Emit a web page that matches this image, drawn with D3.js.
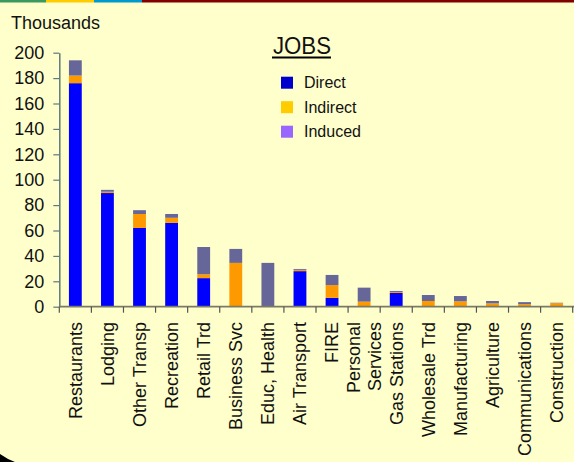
<!DOCTYPE html>
<html>
<head>
<meta charset="utf-8">
<script src="https://cdn.jsdelivr.net/npm/d3@7/dist/d3.min.js"></script>
<style>
  html, body { margin: 0; padding: 0; background: #ffffcc; }
  svg { display: block; }
  text { font-family: "Liberation Sans", Arial, sans-serif; fill: #111; }
</style>
</head>
<body>
<div id="chart-container"></div>
<script>
// values in thousands of jobs
const categories = ["Restaurants", "Lodging", "Other Transp", "Recreation", "Retail Trd",
  "Business Svc", "Educ, Health", "Air Transport", "FIRE", "Personal Services",
  "Gas Stations", "Wholesale Trd", "Manufacturing", "Agriculture", "Communications", "Construction"];
const direct   = [176, 89.5, 62, 66, 22.5, 0, 0, 28, 7, 0, 10.8, 0, 0, 0, 0, 0];
const indirect = [6, 1, 11, 4, 3, 34.5, 0, 1, 10, 4, 0.8, 4.5, 4.2, 2.6, 2, 2.8];
const induced  = [12, 1.5, 3, 3, 21.5, 11, 34.5, 0.7, 8, 11, 0.8, 4.7, 4.2, 1.9, 1.6, 0.3];
const seriesNames = ["Direct", "Indirect", "Induced"];
const yTicks = [0, 20, 40, 60, 80, 100, 120, 140, 160, 180, 200];

const width = 574, height = 462;
const barColors = { Direct: "#0000ff", Indirect: "#ff9900", Induced: "#666699" };
const legendColors = { Direct: "#0000cc", Indirect: "#ffcc00", Induced: "#9966ff" };

const svg = d3.select('#chart-container')
  .append('svg')
  .attr('width', width)
  .attr('height', height);

svg.append('rect').attr('width', width).attr('height', height).attr('fill', '#ffffcc');

// coloured strip along the top
const strip = [["#3a9a5e", 0, 46], ["#ffcc00", 46, 94], ["#0099cc", 94, 142], ["#800000", 142, width]];
svg.selectAll('.strip')
  .data(strip)
  .enter()
  .append('rect')
  .attr('x', d => d[1])
  .attr('y', 0)
  .attr('width', d => d[2] - d[1])
  .attr('height', 2.5)
  .attr('fill', d => d[0]);

// black frame corner bottom left
svg.append('path')
  .attr('d', 'M0,454 Q7,459 15,462 L0,462 Z')
  .attr('fill', '#000');

const data = categories.map((c, i) => ({
  label: c, Direct: direct[i], Indirect: indirect[i], Induced: induced[i]
}));

const xScale = d3.scaleBand()
  .domain(categories)
  .range([59.3, 572.7])
  .paddingInner(0.6)
  .paddingOuter(0.3);

const yScale = d3.scaleLinear()
  .domain([0, 200])
  .range([306.7, 52.7]);

const stack = d3.stack().keys(seriesNames);
const layers = stack(data);

svg.append('g')
  .selectAll('g')
  .data(layers)
  .enter()
  .append('g')
  .attr('fill', d => barColors[d.key])
  .selectAll('rect')
  .data(d => d)
  .enter()
  .append('rect')
  .attr('x', d => xScale(d.data.label))
  .attr('y', d => yScale(d[1]))
  .attr('width', xScale.bandwidth())
  .attr('height', d => yScale(d[0]) - yScale(d[1]));

// y axis
const yAxis = svg.append('g')
  .attr('class', 'y-axis')
  .attr('transform', 'translate(59.3,0)')
  .call(d3.axisLeft(yScale).tickValues(yTicks).tickSize(6).tickSizeOuter(0).tickPadding(9));
yAxis.select('.domain').attr('stroke', '#5e7a7a').attr('stroke-width', 1.5);
yAxis.selectAll('.tick line').attr('stroke', '#5e7a7a').attr('stroke-width', 1.2);
yAxis.selectAll('.tick text')
  .style('font-size', '18px')
  .style('font-family', '"Liberation Sans", Arial, sans-serif')
  .attr('fill', '#111');

// x axis with ticks between categories
const xAxisG = svg.append('g').attr('class', 'x-axis');
xAxisG.append('line')
  .attr('x1', 59.3).attr('x2', 574)
  .attr('y1', yScale(0)).attr('y2', yScale(0))
  .attr('stroke', '#7a7a66').attr('stroke-width', 1.8);
const step = xScale.step();
const bounds = d3.range(categories.length + 1).map(i => 59.3 + i * step);
xAxisG.selectAll('.xtick')
  .data(bounds)
  .enter()
  .append('line')
  .attr('x1', d => d).attr('x2', d => d)
  .attr('y1', yScale(0)).attr('y2', yScale(0) + 6)
  .attr('stroke', '#555').attr('stroke-width', 1.2);

const labelG = xAxisG.selectAll('.xlabel')
  .data(categories)
  .enter()
  .append('text')
  .attr('class', 'xlabel')
  .attr('transform', d => `translate(${xScale(d) + xScale.bandwidth() / 2},322) rotate(-90)`)
  .attr('text-anchor', 'end')
  .style('font-size', '18px');

labelG.each(function(d) {
  const lines = d === "Personal Services" ? ["Personal", "Services"] : [d];
  const t = d3.select(this);
  lines.forEach((ln, j) => {
    t.append('tspan')
      .attr('x', 0)
      .attr('dy', lines.length === 1 ? '0.35em' : (j === 0 ? '-0.25em' : '1.2em'))
      .text(ln);
  });
});

// y units label
svg.append('text')
  .attr('x', 11)
  .attr('y', 29)
  .style('font-size', '18px')
  .text('Thousands');

// title
svg.append('text')
  .attr('x', 273)
  .attr('y', 54)
  .attr('textLength', 58)
  .attr('lengthAdjust', 'spacingAndGlyphs')
  .style('font-size', '24px')
  .text('JOBS');
svg.append('line')
  .attr('x1', 272).attr('x2', 331)
  .attr('y1', 57.5).attr('y2', 57.5)
  .attr('stroke', '#000').attr('stroke-width', 2);

// legend
const legend = svg.append('g')
  .selectAll('g')
  .data(seriesNames)
  .enter()
  .append('g')
  .attr('transform', (d, i) => `translate(281,${82.7 + i * 24.5})`);
legend.append('rect')
  .attr('x', 0).attr('y', -6)
  .attr('width', 12).attr('height', 12)
  .attr('fill', d => legendColors[d]);
legend.append('text')
  .attr('x', 23)
  .attr('dy', '0.35em')
  .style('font-size', '16px')
  .text(d => d);
</script>
</body>
</html>
